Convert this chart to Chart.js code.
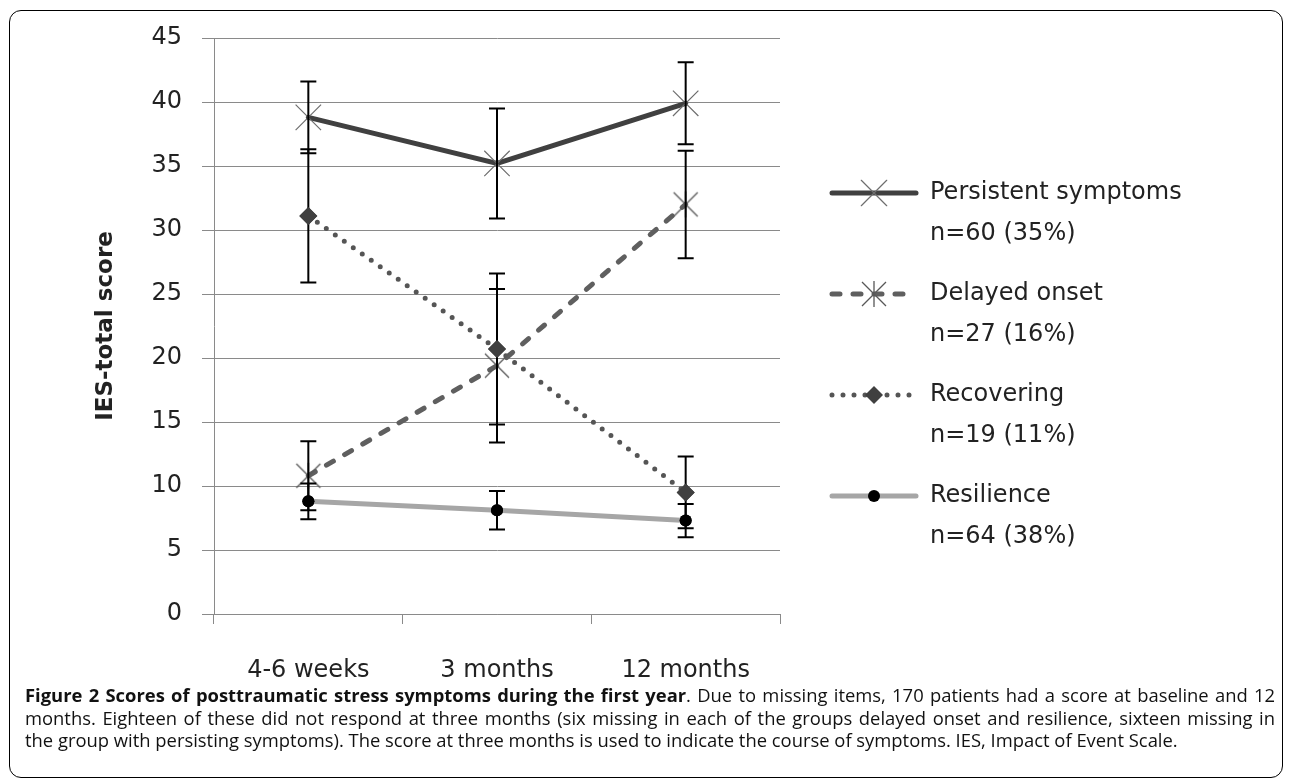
<!DOCTYPE html>
<html>
<head>
<meta charset="utf-8">
<title>Scores of posttraumatic stress symptoms</title>
<script src="https://cdn.jsdelivr.net/npm/chart.js@4.4.0/dist/chart.umd.min.js"></script>
<style>
  html, body { margin: 0; padding: 0; background: #fff; }
  body { width: 1293px; height: 780px; position: relative; overflow: hidden; }
  #frame {
    position: absolute; left: 9px; top: 10px; width: 1274px; height: 768px;
    border: 1.5px solid #000; border-radius: 12px; box-sizing: border-box;
  }
  #chart { position: absolute; left: 0; top: 0; }
  #caption {
    position: absolute; left: 25px; top: 684px; width: 1250px;
    font-family: "Open Sans", sans-serif; font-size: 18.4px; line-height: 22.5px; color: #111;
  }
  #caption .ln { text-align: justify; text-align-last: justify; }
  #caption .last { text-align: left; }
</style>
</head>
<body>
<div id="frame"></div>
<canvas id="chart" width="1293" height="690"></canvas>
<div id="caption">
  <div class="ln"><b>Figure 2 Scores of posttraumatic stress symptoms during the first year</b>. Due to missing items, 170 patients had a score at baseline and 12</div>
  <div class="ln">months. Eighteen of these did not respond at three months (six missing in each of the groups delayed onset and resilience, sixteen missing in</div>
  <div class="last">the group with persisting symptoms). The score at three months is used to indicate the course of symptoms. IES, Impact of Event Scale.</div>
</div>
<script>
// IES-total score per trajectory group, mean and error (half bar length),
// read off the figure.
const timepoints     = ["4-6 weeks", "3 months", "12 months"];
const groupNames     = ["Persistent symptoms", "Delayed onset", "Recovering", "Resilience"];
const groupSizes     = ["n=60 (35%)", "n=27 (16%)", "n=19 (11%)", "n=64 (38%)"];

const persistentMean = [38.8, 35.2, 39.9];
const persistentErr  = [2.8, 4.3, 3.2];
const delayedMean    = [10.8, 19.4, 32.0];
const delayedErr     = [2.7, 6.0, 4.2];
const recoveringMean = [31.1, 20.7, 9.5];
const recoveringErr  = [5.2, 5.9, 2.8];
const resilienceMean = [8.8, 8.1, 7.3];
const resilienceErr  = [1.4, 1.5, 1.3];

const FONT = "'DejaVu Sans', sans-serif";
const TEXT = "#222";
const GRID = "#8a8a8a";

// Excel style asterisk marker: an X with a vertical stroke
function asteriskMarker() {
  const c = document.createElement("canvas");
  c.width = 28; c.height = 28;
  const g = c.getContext("2d");
  g.strokeStyle = "#585858";
  g.lineWidth = 1.3;
  g.beginPath();
  g.moveTo(2, 2);  g.lineTo(26, 26);
  g.moveTo(26, 2); g.lineTo(2, 26);
  g.moveTo(14, 1); g.lineTo(14, 27);
  g.stroke();
  return c;
}

const datasets = [
  {
    label: groupNames[0], data: persistentMean, errors: persistentErr,
    borderColor: "#404040", borderWidth: 5, borderCapStyle: "round",
    pointStyle: "crossRot", pointRadius: 18, pointBorderWidth: 1.2,
    pointBorderColor: "#6e6e6e", pointBackgroundColor: "#6e6e6e",
  },
  {
    label: groupNames[1], data: delayedMean, errors: delayedErr,
    borderColor: "#5f5f5f", borderWidth: 5, borderCapStyle: "round", borderDash: [8, 13],
    pointStyle: asteriskMarker(), pointRadius: 14, pointBorderWidth: 0,
    pointBorderColor: "#585858", pointBackgroundColor: "#585858",
  },
  {
    label: groupNames[2], data: recoveringMean, errors: recoveringErr,
    borderColor: "#555555", borderWidth: 5, borderCapStyle: "round", borderDash: [0, 11],
    pointStyle: "rectRot", pointRadius: 9, pointBorderWidth: 0,
    pointBorderColor: "#404040", pointBackgroundColor: "#404040",
    markerOnTop: true,
  },
  {
    label: groupNames[3], data: resilienceMean, errors: resilienceErr,
    borderColor: "#a6a6a6", borderWidth: 5, borderCapStyle: "round",
    pointStyle: "circle", pointRadius: 6, pointBorderWidth: 0,
    pointBorderColor: "#000", pointBackgroundColor: "#000",
    markerOnTop: true,
  },
];

// Black error bars with caps, drawn over the lines
const errorBars = {
  id: "errorBars",
  afterDatasetsDraw(chart) {
    const { ctx, scales: { x, y } } = chart;
    ctx.save();
    ctx.strokeStyle = "#000";
    ctx.lineWidth = 2;
    chart.data.datasets.forEach(ds => {
      ds.errors.forEach((e, j) => {
        const px  = x.getPixelForValue(j);
        const top = y.getPixelForValue(ds.data[j] + e);
        const bot = y.getPixelForValue(ds.data[j] - e);
        ctx.beginPath();
        ctx.moveTo(px, top);     ctx.lineTo(px, bot);
        ctx.moveTo(px - 8, top); ctx.lineTo(px + 8, top);
        ctx.moveTo(px - 8, bot); ctx.lineTo(px + 8, bot);
        ctx.stroke();
      });
    });
    // filled markers sit on top of the bars
    chart.data.datasets.forEach((ds, i) => {
      if (!ds.markerOnTop) return;
      chart.getDatasetMeta(i).data.forEach(pt => pt.draw(ctx, chart.chartArea));
    });
    ctx.restore();
  },
};

// Two-line legend entries on the right
const sideLegend = {
  id: "sideLegend",
  afterDraw(chart) {
    const ctx = chart.ctx;
    chart.data.datasets.forEach((ds, i) => {
      const cy = 193 + i * 101;
      ctx.save();
      ctx.strokeStyle = ds.borderColor;
      ctx.lineWidth = ds.borderWidth;
      ctx.lineCap = "round";
      ctx.setLineDash(ds.borderDash || []);
      ctx.beginPath();
      ctx.moveTo(832, cy);
      ctx.lineTo(916, cy);
      ctx.stroke();
      ctx.setLineDash([]);
      ctx.fillStyle = ds.pointBackgroundColor;
      ctx.strokeStyle = ds.pointBorderColor;
      ctx.lineWidth = ds.pointBorderWidth;
      Chart.helpers.drawPoint(ctx, {
        pointStyle: ds.pointStyle, radius: ds.pointRadius,
        borderWidth: ds.pointBorderWidth, rotation: 0,
      }, 874, cy);
      ctx.fillStyle = TEXT;
      ctx.font = "24px " + FONT;
      ctx.textBaseline = "middle";
      ctx.fillText(groupNames[i], 930, cy);
      ctx.fillText(groupSizes[i], 930, cy + 41);
      ctx.restore();
    });
  },
};

new Chart(document.getElementById("chart"), {
  type: "line",
  data: { labels: timepoints, datasets },
  options: {
    responsive: false,
    animation: false,
    layout: { padding: { left: 0, right: 513, top: 38, bottom: 0 } },
    plugins: { legend: { display: false }, tooltip: { enabled: false } },
    elements: { line: { tension: 0, fill: false } },
    scales: {
      x: {
        offset: true,
        grid: { offset: true, drawOnChartArea: false, color: GRID, tickLength: 10 },
        border: { color: GRID },
        ticks: { color: TEXT, font: { family: FONT, size: 24 }, padding: 32, maxRotation: 0 },
        afterFit(scale) { scale.height = 76; },
      },
      y: {
        min: 0, max: 45,
        grid: { color: GRID, tickLength: 12 },
        border: { color: GRID },
        ticks: { stepSize: 5, color: TEXT, font: { family: FONT, size: 24 }, padding: 20 },
        title: {
          display: true, text: "IES-total score", color: TEXT,
          font: { family: FONT, size: 23, weight: "bold" }, padding: { top: 92, bottom: 0 },
        },
        afterFit(scale) { scale.width = 214; },
      },
    },
  },
  plugins: [errorBars, sideLegend],
});
</script>
</body>
</html>
